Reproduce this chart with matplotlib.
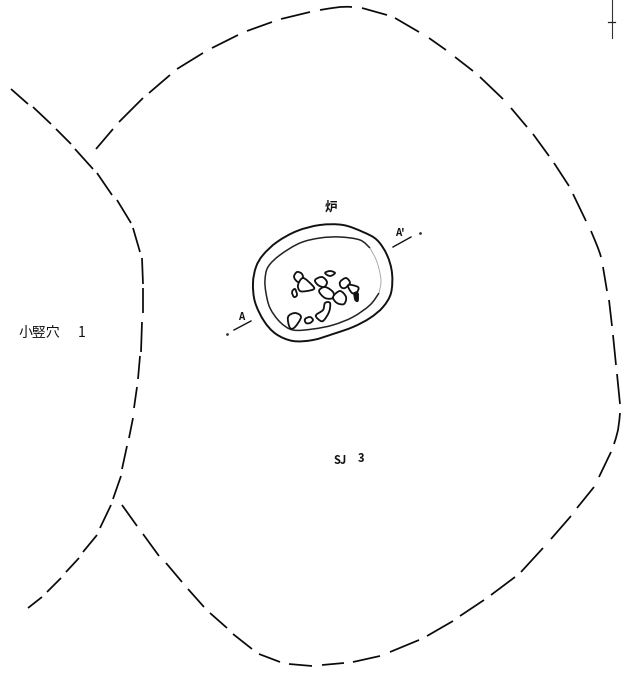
import matplotlib
matplotlib.use("Agg")
import matplotlib.pyplot as plt
from matplotlib.path import Path
from matplotlib.patches import PathPatch

plt.rcParams['font.family'] = ['Noto Sans CJK JP', 'DejaVu Sans']

pit_main_dashes = [
    [(96,149),(113,129)], [(119,122),(143,98)], [(149,93),(170,75)], [(177,69),(203,53)],
    [(212,48),(238,35)], [(247,31),(272,22)], [(281,19),(310,12)], [(320,10),(340,7),(352,7)],
    [(362,8),(387,15)], [(395,18),(419,32)], [(429,38),(446,50)], [(455,57),(473,71)],
    [(480,77),(503,99)], [(511,108),(527,127)], [(533,134),(549,156)], [(554,163),(569,186)],
    [(573,194),(586,221)], [(591,231),(598,248),(601,257)], [(603,267),(607,291)],
    [(609,300),(612,326)], [(613,335),(616,365)], [(617,374),(620,404)], [(620,413),(618,430),(614,444)],
    [(611,452),(599,477)], [(594,487),(577,508)], [(571,516),(551,539)], [(543,548),(521,572)],
    [(515,577),(491,595)], [(484,600),(460,616)], [(453,621),(427,636)],
    [(419,640),(390,652)], [(380,656),(353,662)], [(344,663),(322,665)], [(312,666),(289,664)],
    [(280,662),(259,654)], [(252,649),(233,634)], [(227,628),(210,613)],
    [(204,607),(188,589)], [(182,582),(166,563)], [(159,556),(143,534)], [(137,526),(122,505)],
]
pit_left_dashes = [
    [(11,89),(28,104)], [(33,107),(51,124)], [(56,129),(71,144)], [(75,149),(93,169)],
    [(97,173),(112,195)], [(117,200),(131,223)], [(133,228),(140,252)], [(142,258),(143,284)],
    [(143,288),(143,313)], [(142,322),(141,352)], [(140,356),(138,379)], [(137,387),(134,408)],
    [(133,418),(129,438)], [(127,446),(122,469)], [(121,476),(113,499)], [(111,505),(100,528)],
    [(97,535),(83,552)], [(79,558),(66,572)], [(61,578),(47,592)], [(42,597),(28,608)],
]
hearth_outer = [(253,283),(256,267),(263,255),(277,242),(297,231),(320,225),(343,225),(363,232),(377,240),
                (387,255),(392,273),(391,293),(383,307),(370,318),(353,327),(333,334),(313,340),
                (293,341),(276,334),(264,321),(255,302)]
hearth_inner = [(379,293),(370,305),(353,317),(333,325),(313,329),(293,330),(280,322),(270,308),
                (266,293),(265,280),(268,267),(280,255),(300,243),(320,238),(340,237),(360,240),(370,248)]
hearth_inner_faint = [(370,248),(377,262),(381,280),(379,293)]
stones = [
    [(294,277),(297,272),(302,274),(303,280),(298,282)],
    [(298,285),(303,278),(312,285),(314,289),(307,291),(300,291)],
    [(315,280),(322,277),(327,282),(324,287),(318,285)],
    [(319,291),(325,287),(333,292),(333,298),(325,298)],
    [(325,273),(330,271),(335,273),(330,276)],
    [(340,282),(346,278),(350,283),(345,288),(341,287)],
    [(333,297),(340,291),(346,297),(344,304),(337,303)],
    [(348,285),(358,287),(357,292),(352,293)],
    [(292,292),(295,289),(297,295),(294,297)],
    [(288,317),(295,313),(301,317),(295,327),(290,328)],
    [(305,319),(310,317),(313,320),(310,323),(306,323)],
    [(316,315),(323,310),(325,303),(330,303),(329,312),(323,321),(318,319)],
]
stone_dark = [(354,293),(358,293),(358,301),(355,300)]
section_a = [(234,330),(251,321)]
section_b = [(393,247),(411,237)]
section_dots = [(227,334),(420,233)]
north_line = [(612,0),(612,38)]
north_tick = [(608,22),(615,22)]
labels = [(331,207,'炉',9,'bold'),(241,317,'A',7,'bold'),(400,233,"A'",7,'bold'),
          (39,333,'小竪穴',10,'normal'),(82,333,'1',10,'normal'),
          (340,461,'SJ',8,'bold'),(361,459,'3',8,'bold')]


def smooth(pts, closed=False):
    n = len(pts)
    verts, codes = [pts[0]], [Path.MOVETO]
    segs = n if closed else n - 1
    for i in range(segs):
        p1, p2 = pts[i], pts[(i + 1) % n]
        p0 = pts[(i - 1) % n] if (closed or i > 0) else p1
        p3 = pts[(i + 2) % n] if (closed or i + 2 < n) else p2
        c1 = (p1[0] + (p2[0] - p0[0]) / 6, p1[1] + (p2[1] - p0[1]) / 6)
        c2 = (p2[0] - (p3[0] - p1[0]) / 6, p2[1] - (p3[1] - p1[1]) / 6)
        verts += [c1, c2, p2]
        codes += [Path.CURVE4] * 3
    return Path(verts, codes)


fig = plt.figure(figsize=(6.29, 6.75), dpi=100)
ax = fig.add_axes([0, 0, 1, 1])
ax.set_xlim(0, 629)
ax.set_ylim(675, 0)
ax.axis('off')

for d in pit_main_dashes + pit_left_dashes:
    ax.add_patch(PathPatch(smooth(d), fill=False, ec='#0a0a0a', lw=1.25, capstyle='butt'))
ax.add_patch(PathPatch(smooth(hearth_outer, True), fill=False, ec='#111111', lw=1.4))
ax.add_patch(PathPatch(smooth(hearth_inner), fill=False, ec='#222222', lw=1.1))
ax.add_patch(PathPatch(smooth(hearth_inner_faint), fill=False, ec='#aaaaaa', lw=0.7))
for s in stones:
    ax.add_patch(PathPatch(smooth(s, True), fc='white', ec='#111111', lw=1.3, zorder=3))
ax.add_patch(PathPatch(smooth(stone_dark, True), fc='#111111', ec='#111111', lw=0.8, zorder=3))
for seg in (section_a, section_b):
    ax.plot(*zip(*seg), color='#111111', lw=1.0)
ax.plot(*zip(*section_dots), ls='none', marker='o', ms=1.0, color='#333333')
ax.plot(*zip(*north_line), color='#333333', lw=0.8)
ax.plot(*zip(*north_tick), color='#222222', lw=0.9)
for x, y, t, size, w in labels:
    ax.text(x, y, t, fontsize=size, fontweight=w, ha='center', va='center', color='#111111')

fig.savefig('out.png', dpi=100)
